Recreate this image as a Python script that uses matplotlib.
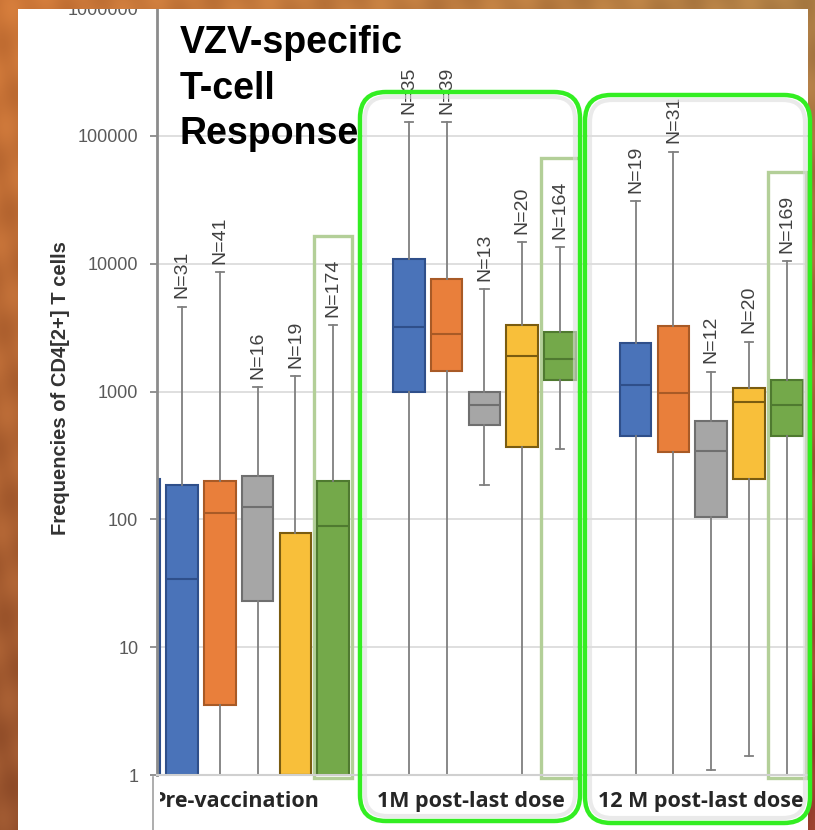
import matplotlib
matplotlib.use("Agg")
import matplotlib.pyplot as plt
import numpy as np
from matplotlib.lines import Line2D
from matplotlib.patches import FancyBboxPatch, Rectangle
from matplotlib.ticker import NullLocator
from matplotlib.transforms import Bbox, IdentityTransform, TransformedBbox, blended_transform_factory

W, H = 815, 830

groups = ["Pre-vaccination", "1M post-last dose", "12 M post-last dose"]
series_colors = ["#4a73b9", "#e97f3b", "#a6a6a6", "#f8bf3a", "#74a94a"]
edge_colors = ["#2f4f8a", "#a85a26", "#6f6f6f", "#7a5c10", "#4f7a30"]

# five boxes per time point: blue, orange, gray, yellow, green (all subjects)
whislo = [[1, 1, 1, 1, 1], [1, 1, 185, 1, 353], [1, 1, 1.1, 1.4, 1]]
q1 = [[1, 3.5, 23, 1, 1], [1000, 1440, 550, 370, 1230], [445, 335, 104, 208, 450]]
med = [[34, 113, 126, 1, 89], [3200, 2840, 780, 1880, 1780], [1120, 980, 340, 830, 780]]
q3 = [[185, 200, 220, 78, 200], [10900, 7650, 1000, 3300, 2900], [2400, 3230, 585, 1070, 1240]]
whishi = [[4600, 8600, 1080, 1320, 3320], [128000, 128000, 6350, 14800, 13500],
          [31000, 75000, 1430, 2450, 10500]]
n_counts = [[31, 41, 16, 19, 174], [35, 39, 13, 20, 164], [19, 31, 12, 20, 169]]

# edge of a (blue) box from the cropped-off panel on the left
prev_box = {"whislo": 1, "q1": 1, "med": 1, "q3": 205, "whishi": 205}

tick_vals = [1, 10, 100, 1000, 10000, 100000, 1000000]
tick_labels = ["1", "10", "100", "1000", "10000", "100000", "1000000"]

title_lines = ["VZV-specific", "T-cell", "Response"]
ylabel = "Frequencies of CD4[2+] T cells"

fig = plt.figure(figsize=(W / 100, H / 100), dpi=100)
fig.patch.set_facecolor("#c06a34")
fig.add_artist(Rectangle((18 / W, 0), (808 - 18) / W, (H - 9) / H, transform=fig.transFigure,
                         facecolor="white", edgecolor="none", zorder=-1))

ax = fig.add_axes([157 / W, (H - 775) / H, (808 - 157) / W, 767 / H])
ax.set_facecolor("white")
ax.set_yscale("log")
ax.set_ylim(1, 1000000)
ax.set_xlim(-0.661, 16.56)

stats, positions, fills = [dict(prev_box, fliers=[])], [-1], [0]
for g in range(len(groups)):
    for i in range(5):
        stats.append(dict(whislo=whislo[g][i], q1=q1[g][i], med=med[g][i], q3=q3[g][i],
                          whishi=whishi[g][i], fliers=[]))
        positions.append(6 * g + i)
        fills.append(i)

line_kw = dict(color="#7f7f7f", lw=1.3)
bp = ax.bxp(stats, positions=positions, widths=0.84, capwidths=0.22, patch_artist=True,
            showfliers=False, manage_ticks=False, whiskerprops=line_kw, capprops=line_kw,
            boxprops=dict(lw=1.5), medianprops=dict(lw=1.5))
for c, box, mline in zip(fills, bp["boxes"], bp["medians"]):
    box.set_facecolor(series_colors[c])
    box.set_edgecolor(edge_colors[c])
    mline.set_color(edge_colors[c])

for g in range(len(groups)):
    for i in range(5):
        pos = 6 * g + i
        ax.annotate(f"N={n_counts[g][i]}", (pos, whishi[g][i]), xytext=(0, 6),
                    textcoords="offset points", rotation=90, ha="center", va="bottom",
                    fontsize=14, color="#404040", family="Liberation Sans")
    # light green frame around the "all subjects" box
    top = whishi[g][4] * 5
    ax.add_patch(Rectangle((6 * g + 3.5, 0.947), 1, top - 0.947, fill=False,
                           edgecolor="#b3cf98", lw=2.4, zorder=1.5, clip_on=False))

ax.yaxis.grid(True, color="#d9d9d9", lw=1.2)
ax.set_axisbelow(True)
ax.set_yticks(tick_vals, labels=tick_labels)
ax.yaxis.set_minor_locator(NullLocator())
ax.set_xticks([])
ax.tick_params(axis="y", length=5, width=1.2, color="#808080", labelsize=13,
               labelcolor="#595959", pad=8.5)
for lab in ax.get_yticklabels():
    lab.set_family("Liberation Sans")
for side in ("top", "right"):
    ax.spines[side].set_visible(False)
ax.spines["left"].set_color("#8c8c8c")
ax.spines["left"].set_linewidth(2)
ax.spines["bottom"].set_color("#d0d0d0")
ax.spines["bottom"].set_linewidth(1.5)

# time point labels under the axis (first one is cut by the plot-area edge)
trans = blended_transform_factory(ax.transData, ax.transAxes)
label_shift = [-0.57, -0.35, -0.27]
clip = TransformedBbox(Bbox([[160 / W, 0], [1, 1]]), fig.transFigure)
for g, name in enumerate(groups):
    t = ax.text(6 * g + 2 + label_shift[g], -0.0352, name, transform=trans, ha="center",
                va="center", fontsize=15.5, weight="bold", color="#262626", family="Open Sans")
    t.set_clip_path(None)
    t.set_clip_box(clip)
    t.set_clip_on(True)
fig.add_artist(Line2D([153 / W, 153 / W], [0, (H - 777) / H], color="#a0a0a0", lw=1.2))

fig.text(60 / W, 1 - 388 / H, ylabel, rotation=90, ha="center", va="center", fontsize=14.5,
         weight="bold", color="#333333", family="Liberation Sans")

for line, base in zip(title_lines, [53, 99, 144]):
    fig.text(180 / W, 1 - base / H, line, ha="left", va="baseline", fontsize=27,
             weight="bold", color="black", family="Liberation Sans")

# bright green call-out frames
for x0, x1, y0, y1 in [(360, 580, 92, 821), (585, 810, 95, 823)]:
    fig.add_artist(FancyBboxPatch((x0 + 5, H - y1 + 5), x1 - x0 - 10, y1 - y0 - 10,
                                  boxstyle="round,pad=0,rounding_size=22",
                                  transform=IdentityTransform(), fill=False,
                                  edgecolor="#dcdcdc", lw=3, alpha=0.6, zorder=11))
    fig.add_artist(FancyBboxPatch((x0, H - y1), x1 - x0, y1 - y0,
                                  boxstyle="round,pad=0,rounding_size=26",
                                  transform=IdentityTransform(), fill=False,
                                  edgecolor="#33ee22", lw=3.2, zorder=12))

# slide background around the white panel
yy, xx = np.mgrid[0:H, 0:W]
t = yy / H
s = xx / W
mott = np.sin(xx / 9.0 + yy / 31.0) * np.cos(yy / 13.0 - xx / 17.0)
bg = np.zeros((H, W, 4))
bg[..., 0] = (205 - 55 * t - 30 * s * (1 - t) + 10 * mott) / 255
bg[..., 1] = (118 - 36 * t + 10 * s * (1 - t) - 20 * s * t + 8 * mott) / 255
bg[..., 2] = (55 - 10 * t + 15 * s * (1 - t) + 5 * mott) / 255
bg[..., 3] = ((xx < 18) | (xx >= 808) | (yy < 9)).astype(float)
fig.figimage(np.clip(bg, 0, 1), xo=0, yo=0, origin="upper", zorder=10)

fig.savefig("out.png", dpi=100)
